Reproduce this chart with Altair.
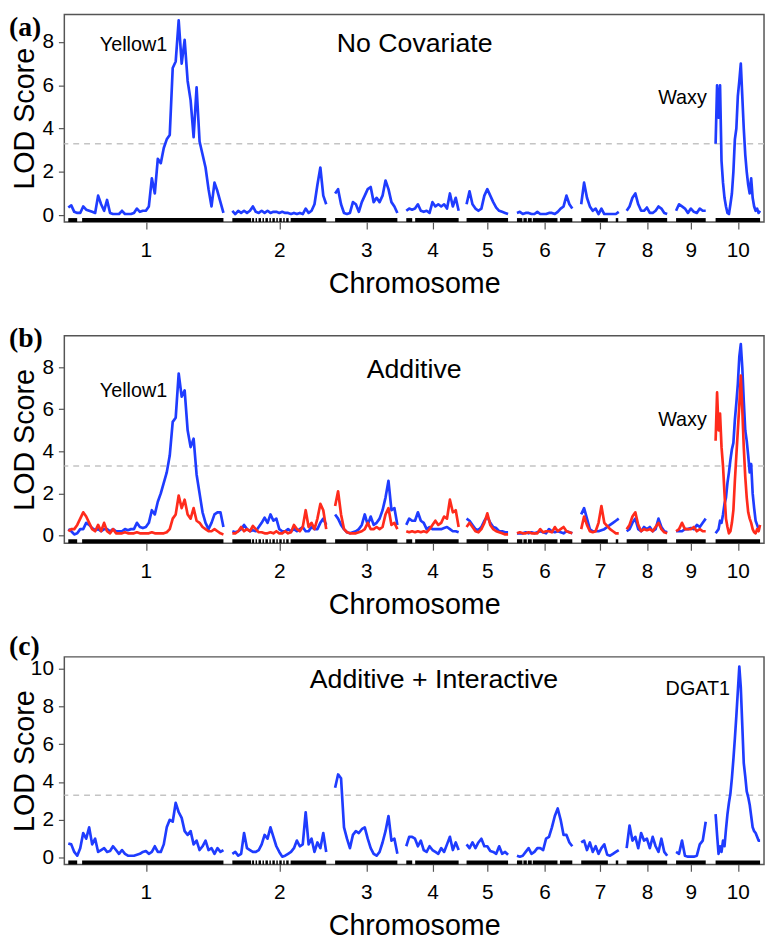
import altair as alt
import pandas as pd

# ---------------- data ----------------
chrom_names = ["1", "2", "3", "4", "5", "6", "7", "8", "9", "10"]
chrom_start = [0, 166, 270, 342, 403, 454, 519, 565, 615, 655]
chrom_end = [157, 261, 333, 395, 445, 510, 557, 606, 645, 700]

# LOD profiles, one list per chromosome (evenly spaced along the chromosome)
lod_no_covariate = [
    [0.35, 0.45, 0.15, 0.1, 0.1, 0.4, 0.25, 0.2, 0.15, 0.1, 0.9, 0.5, 0.2, 0.7, 0.1, 0.05, 0.05, 0.05,
     0.2, 0.05, 0.05, 0.05, 0.1, 0.3, 0.15, 0.2, 0.2, 0.4, 1.7, 1.0, 2.6, 2.4, 3.1, 3.5, 3.7, 6.8, 7.1,
     9.0, 7.0, 8.1, 6.2, 5.3, 3.6, 5.9, 3.4, 2.8, 2.2, 1.2, 0.4, 1.5, 1.1, 0.6, 0.1],
    [0.2, 0.05, 0.2, 0.1, 0.2, 0.1, 0.2, 0.4, 0.15, 0.1, 0.2, 0.1, 0.2, 0.1, 0.15, 0.15, 0.1, 0.15, 0.1,
     0.1, 0.05, 0.1, 0.05, 0.1, 0.05, 0.3, 0.1, 0.2, 0.5, 1.4, 2.2, 0.9, 0.5],
    [1.0, 1.2, 0.5, 0.1, 0.05, 0.1, 0.6, 0.5, 0.15, 0.6, 0.9, 1.2, 1.3, 0.6, 0.8, 0.6, 0.9, 1.6, 1.2, 0.6,
     0.4, 0.1],
    [0.2, 0.3, 0.25, 0.3, 0.5, 0.2, 0.15, 0.2, 0.1, 0.6, 0.4, 0.5, 0.4, 0.5, 0.3, 1.0, 0.4, 0.8, 0.2],
    [0.5, 1.1, 0.5, 0.3, 0.2, 0.3, 0.9, 1.2, 0.9, 0.6, 0.35, 0.2, 0.15, 0.1, 0.05],
    [0.1, 0.15, 0.05, 0.1, 0.1, 0.05, 0.05, 0.15, 0.05, 0.05, 0.05, 0.1, 0.1, 0.05, 0.15, 0.3, 0.4, 0.9,
     0.5, 0.3],
    [0.5, 1.5, 0.8, 0.4, 0.2, 0.3, 0.05, 0.3, 0.05, 0.05, 0.05, 0.05, 0.05, 0.15],
    [0.2, 0.4, 0.8, 1.0, 0.5, 0.2, 0.2, 0.35, 0.1, 0.1, 0.2, 0.4, 0.3, 0.1, 0.05],
    [0.2, 0.5, 0.4, 0.3, 0.1, 0.3, 0.15, 0.1, 0.3, 0.2, 0.2],
    [3.3, 6.0, 4.5, 6.0, 2.5, 1.5, 0.8, 0.4, 0.1, 0.05, 0.5, 1.0, 2.0, 3.5, 4.0, 5.5, 6.2, 7.0, 5.5, 4.0,
     2.8, 2.0, 1.4, 1.0, 1.7, 0.8, 0.4, 0.2, 0.3, 0.1, 0.2],
]

lod_additive_blue = [
    [0.3, 0.2, 0.05, 0.1, 0.3, 0.3, 0.6, 0.5, 0.35, 0.25, 0.3, 0.2, 0.3, 0.3, 0.2, 0.3, 0.2, 0.2, 0.2,
     0.3, 0.25, 0.3, 0.3, 0.6, 0.4, 0.35, 0.4, 0.6, 1.2, 1.0, 1.6, 2.0, 2.5, 3.0, 3.8, 5.4, 5.6, 7.7,
     6.6, 6.9, 5.0, 4.2, 4.6, 2.9, 2.0, 1.1, 0.6, 0.3, 0.6, 1.0, 1.1, 1.1, 0.4],
    [0.2, 0.15, 0.2, 0.3, 0.5, 0.3, 0.2, 0.25, 0.2, 0.4, 0.6, 0.85, 0.6, 1.0, 0.7, 0.8, 0.3, 0.2, 0.2,
     0.3, 0.2, 0.3, 0.2, 0.3, 0.4, 0.2, 0.2, 0.4, 0.3, 0.3, 0.6, 0.8, 0.5],
    [1.0, 0.8, 0.5, 0.3, 0.15, 0.1, 0.15, 0.2, 0.3, 0.5, 1.0, 0.5, 0.9, 0.5, 0.6, 0.8, 1.2, 1.8, 2.6,
     1.2, 1.3, 0.5],
    [0.5, 0.8, 0.7, 0.7, 1.1, 0.7, 0.6, 0.3, 0.4, 0.3, 0.3, 0.3, 0.3, 0.35, 0.4, 0.3, 0.2, 0.2, 0.15],
    [0.8, 0.7, 0.5, 0.3, 0.25, 0.4, 0.7, 0.9, 0.6, 0.4, 0.35, 0.2, 0.2, 0.15, 0.15],
    [0.1, 0.1, 0.1, 0.15, 0.1, 0.15, 0.1, 0.15, 0.2, 0.15, 0.1, 0.3, 0.2, 0.15, 0.2, 0.15, 0.1, 0.2,
     0.15, 0.1],
    [1.0, 1.3, 0.8, 0.3, 0.2, 0.2, 0.2, 0.25, 0.3, 0.4, 0.5, 0.6, 0.7, 0.8],
    [0.2, 0.3, 0.6, 0.8, 0.3, 0.2, 0.4, 0.3, 0.4, 0.2, 0.3, 0.8, 0.4, 0.2, 0.15],
    [0.2, 0.2, 0.2, 0.3, 0.3, 0.35, 0.3, 0.5, 0.4, 0.6, 0.8],
    [0.1, 0.2, 0.3, 0.7, 0.6, 1.0, 1.5, 1.8, 2.5, 3.0, 3.6, 4.1, 4.4, 5.5, 6.3, 7.2, 8.5, 9.1, 8.0, 6.4,
     5.0, 4.5, 3.8, 3.0, 3.4, 2.0, 1.3, 0.7, 0.5, 0.3, 0.3],
]

lod_additive_red = [
    [0.2, 0.3, 0.3, 0.5, 0.8, 1.1, 0.9, 0.6, 0.3, 0.2, 0.5, 0.2, 0.6, 0.2, 0.1, 0.3, 0.1, 0.1, 0.1, 0.15,
     0.1, 0.1, 0.1, 0.15, 0.1, 0.1, 0.1, 0.1, 0.15, 0.1, 0.1, 0.1, 0.1, 0.15, 0.3, 0.8, 1.0, 1.9, 1.3,
     1.7, 1.0, 0.8, 1.3, 0.7, 0.6, 0.4, 0.3, 0.2, 0.2, 0.3, 0.2, 0.1, 0.05],
    [0.1, 0.1, 0.2, 0.4, 0.2, 0.3, 0.2, 0.45, 0.3, 0.15, 0.15, 0.1, 0.1, 0.15, 0.1, 0.2, 0.1, 0.1, 0.2,
     0.1, 0.15, 0.5, 0.3, 0.2, 0.4, 1.2, 0.4, 0.6, 0.3, 0.8, 1.5, 1.2, 0.3],
    [1.4, 2.1, 1.0, 0.3, 0.15, 0.1, 0.1, 0.1, 0.15, 0.2, 0.3, 0.6, 0.3, 0.3, 0.4, 0.3, 0.4, 1.0, 1.3,
     0.5, 0.6, 0.3],
    [0.2, 0.15, 0.2, 0.15, 0.2, 0.15, 0.2, 0.15, 0.3, 0.5, 0.7, 0.5, 0.6, 0.9, 0.8, 1.7, 1.1, 1.2, 0.4],
    [0.4, 0.6, 0.4, 0.2, 0.15, 0.3, 0.6, 1.05, 0.5, 0.3, 0.2, 0.15, 0.1, 0.05, 0.05],
    [0.1, 0.15, 0.1, 0.1, 0.15, 0.1, 0.1, 0.1, 0.3, 0.15, 0.2, 0.2, 0.15, 0.4, 0.2, 0.3, 0.4, 0.2, 0.15,
     0.1],
    [0.3, 0.9, 0.5, 0.2, 0.15, 0.2, 0.6, 1.4, 0.6, 0.45, 0.3, 0.2, 0.1, 0.1],
    [0.3, 0.5, 0.9, 1.1, 0.5, 0.2, 0.3, 0.25, 0.3, 0.2, 0.4, 0.6, 0.3, 0.15, 0.1],
    [0.2, 0.3, 0.6, 0.3, 0.3, 0.3, 0.4, 0.2, 0.3, 0.2, 0.2],
    [4.5, 6.8, 5.0, 5.8, 4.2, 3.3, 2.0, 0.8, 0.4, 0.1, 0.2, 0.6, 1.2, 2.6, 3.8, 5.0, 6.2, 7.6, 6.0, 4.2,
     2.8, 1.8, 1.1, 0.8, 0.6, 0.3, 0.15, 0.1, 0.3, 0.2, 0.5],
]

lod_add_interactive = [
    [0.75, 0.7, 0.3, 0.1, 0.5, 1.3, 1.0, 1.6, 0.7, 1.0, 0.3, 0.4, 0.5, 0.3, 0.35, 0.6, 0.4, 0.2, 0.4,
     0.2, 0.1, 0.1, 0.1, 0.15, 0.2, 0.3, 0.35, 0.2, 0.3, 0.6, 0.3, 0.3, 0.7, 1.6, 2.0, 1.9, 2.9, 2.4,
     2.1, 1.4, 1.2, 1.4, 0.7, 0.9, 0.4, 0.6, 0.9, 0.4, 0.5, 0.2, 0.5, 0.3, 0.4],
    [0.2, 0.3, 0.1, 0.2, 1.3, 0.5, 0.4, 0.3, 0.3, 0.4, 0.7, 1.2, 1.0, 1.6, 1.1, 0.6, 0.3, 0.05, 0.1, 0.2,
     0.3, 0.5, 0.9, 0.6, 0.7, 2.4, 0.7, 1.0, 0.3, 0.8, 0.5, 1.3, 0.3],
    [3.7, 4.4, 4.2, 1.6, 1.0, 0.5, 1.2, 1.4, 1.3, 1.5, 1.6, 1.0, 0.5, 0.2, 0.1, 0.3, 0.8, 1.4, 2.2, 0.9,
     1.0, 0.2],
    [0.6, 1.1, 1.1, 1.0, 0.6, 0.9, 0.4, 0.3, 0.6, 0.4, 0.3, 0.2, 0.5, 0.3, 0.7, 1.1, 0.4, 0.8, 0.4],
    [0.7, 0.5, 0.8, 0.5, 0.8, 1.0, 0.6, 0.6, 0.35, 0.3, 0.2, 0.6, 0.2, 0.3, 0.15],
    [0.1, 0.05, 0.1, 0.3, 0.5, 0.2, 0.3, 0.5, 0.5, 0.4, 1.0, 1.1, 1.6, 2.2, 2.6, 2.0, 1.2, 1.2, 0.8, 0.6],
    [0.8, 0.9, 0.4, 0.8, 0.3, 0.6, 0.2, 0.5, 0.7, 0.15, 0.1, 0.2, 0.3, 0.4],
    [0.5, 1.7, 0.9, 1.1, 0.5, 1.3, 0.9, 1.0, 0.5, 1.1, 0.6, 0.3, 1.0, 0.3, 0.1],
    [0.3, 0.2, 0.9, 0.1, 0.05, 0.05, 0.05, 0.1, 0.7, 0.9, 1.9],
    [2.3, 1.2, 0.2, 0.6, 0.3, 0.9, 0.6, 1.5, 2.3, 2.9, 3.4, 4.2, 5.2, 6.3, 7.5, 8.8, 10.1, 9.0, 7.0, 5.0,
     4.3, 3.5, 3.2, 2.8, 2.2, 1.6, 1.4, 1.3, 1.1, 0.9, 0.9],
]

threshold = 3.3

# marker rug segments (chromosome, from, to) relative to chromosome start
rug_chrom = [1, 1, 2, 2, 2, 2, 2, 2, 2, 2, 2, 2, 2, 2, 2, 3, 4, 4, 5, 6, 6, 6, 6, 6, 7, 7, 8, 9, 10]
rug_from = [0, 14, 0, 20, 23.5, 26.5, 30.5, 33.5, 37.5, 40.5, 44.5, 47.5, 51.5, 54.5, 59, 0, 0, 9, 0,
            0, 6.5, 11, 16, 43.5, 0, 35, 0, 0, 0]
rug_to = [9, 157, 19, 22, 25, 29, 32, 36, 39, 43, 46, 50, 53, 57, 95, 63, 6, 53, 42,
          5.5, 10, 15, 41, 56, 27, 37.5, 41, 30, 45]

panel_titles = ["No Covariate", "Additive", "Additive + Interactive"]
panel_tags = ["(a)", "(b)", "(c)"]
y_domains = [[-0.32, 9.27], [-0.37, 9.5], [-0.36, 10.62]]
y_ticks = [[0, 2, 4, 6, 8], [0, 2, 4, 6, 8], [0, 2, 4, 6, 8, 10]]

gene_panel = [0, 0, 1, 1, 2]
gene_label = ["Yellow1", "Waxy", "Yellow1", "Waxy", "DGAT1"]
gene_x = [66, 621.5, 66, 621.5, 637]
gene_y = [7.6, 5.15, 6.6, 5.2, 8.6]

# ---------------- styling / layout ----------------
W, H = 708, 210
BLUE = "#1f3cff"
RED = "#ff2b1c"
SANS = "Liberation Sans"
SERIF = "Liberation Serif"

title_pos = [(354.5, 38), (354, 43), (374, 32)]
tag_y = [14, 3, -10]


def curve_frame(series):
    rows = []
    for c, vals in enumerate(series):
        s, e = chrom_start[c], chrom_end[c]
        n = len(vals)
        for i, v in enumerate(vals):
            rows.append({"chrom": c + 1, "pos": s + (e - s) * i / (n - 1), "lod": v})
    return pd.DataFrame(rows)


rug_df = pd.DataFrame({
    "chrom": rug_chrom,
    "from": [chrom_start[c - 1] + f for c, f in zip(rug_chrom, rug_from)],
    "to": [chrom_start[c - 1] + t for c, t in zip(rug_chrom, rug_to)],
})

mids = [(s + e) / 2 for s, e in zip(chrom_start, chrom_end)]
label_expr = "indexof([" + ",".join(str(m) for m in mids) + "], datum.value) + 1"

xscale = alt.Scale(domain=[-4, 704], nice=False, zero=False)

x_axis = alt.Axis(values=mids, labelExpr=label_expr, title="Chromosome", grid=False, domain=False,
                  tickSize=7, tickColor="#555555", tickWidth=1.2, labelFont=SANS, labelFontSize=21,
                  labelColor="black", labelPadding=11, labelFlush=False, labelOverlap=False,
                  titleFont=SANS, titleFontSize=29, titleFontWeight="normal", titleColor="black",
                  titlePadding=9)


def panel(k, series_list, colors):
    ys = alt.Scale(domain=y_domains[k], nice=False, zero=False)
    y_axis = alt.Axis(values=y_ticks[k], title="LOD Score", grid=False, domain=False, tickSize=6,
                      tickColor="#555555", tickWidth=1.2, labelFont=SANS, labelFontSize=21,
                      labelColor="black", labelPadding=5, labelFlush=False, titleFont=SANS,
                      titleFontSize=29, titleFontWeight="normal", titleColor="black",
                      titleAngle=270, titleBaseline="bottom", titleAlign="center",
                      titleX=-25, titleY=H / 2)
    layers = []
    rug = alt.Chart(rug_df).mark_rect(color="black").encode(
        x=alt.X("from:Q", scale=xscale, axis=x_axis),
        x2="to:Q",
        y=alt.value(H - 4),
        y2=alt.value(H),
    )
    layers.append(rug)
    thr = alt.Chart(pd.DataFrame({"t": [threshold]})).mark_rule(
        color="#c4c4c4", strokeDash=[6, 5], strokeWidth=1.4
    ).encode(y=alt.Y("t:Q", scale=ys, axis=y_axis))
    layers.append(thr)
    for series, col in zip(series_list, colors):
        df = curve_frame(series)
        line = alt.Chart(df).mark_line(color=col, strokeWidth=2.7, strokeJoin="round").encode(
            x=alt.X("pos:Q", scale=xscale, axis=x_axis),
            y=alt.Y("lod:Q", scale=ys, axis=y_axis),
            detail="chrom:N",
        )
        layers.append(line)
    gdf = pd.DataFrame({
        "label": [l for p, l in zip(gene_panel, gene_label) if p == k],
        "x": [x for p, x in zip(gene_panel, gene_x) if p == k],
        "y": [y for p, y in zip(gene_panel, gene_y) if p == k],
    })
    genes = alt.Chart(gdf).mark_text(font=SANS, fontSize=20, align="center", baseline="alphabetic",
                                     color="black").encode(
        x=alt.X("x:Q", scale=xscale, axis=x_axis),
        y=alt.Y("y:Q", scale=ys, axis=y_axis),
        text="label:N",
    )
    layers.append(genes)
    tx, ty = title_pos[k]
    title = alt.Chart(pd.DataFrame({"t": [panel_titles[k]]})).mark_text(
        font=SANS, fontSize=27, align="center", baseline="alphabetic", color="black"
    ).encode(x=alt.value(tx), y=alt.value(ty), text="t:N")
    layers.append(title)
    tag = alt.Chart(pd.DataFrame({"t": [panel_tags[k]]})).mark_text(
        font=SERIF, fontSize=28, fontWeight="bold", align="left", baseline="middle", color="black"
    ).encode(x=alt.value(-56), y=alt.value(tag_y[k]), text="t:N")
    layers.append(tag)
    return alt.layer(*layers).properties(width=W, height=H)


pa = panel(0, [lod_no_covariate], [BLUE])
pb = panel(1, [lod_additive_blue, lod_additive_red], [BLUE, RED])
pc = panel(2, [lod_add_interactive], [BLUE])

chart = alt.vconcat(pa, pb, pc, spacing=115, bounds="flush").properties(
    padding={"left": 0, "top": 0, "right": 0, "bottom": 0}, background="white"
).configure_view(stroke="#555555", strokeWidth=1.5)

chart.save("out.html", embed_options={"renderer": "svg", "actions": False})
